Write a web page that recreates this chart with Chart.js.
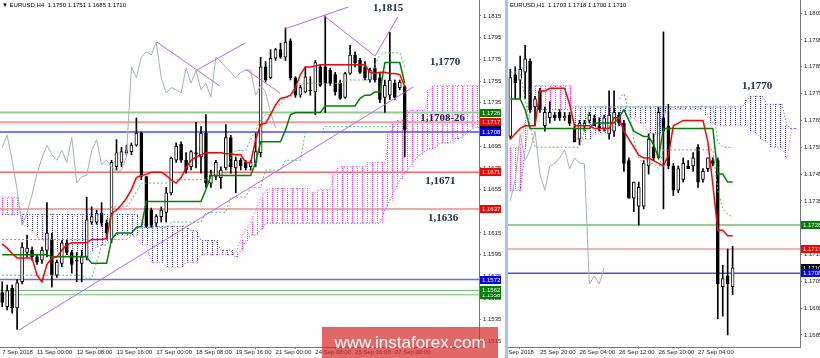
<!DOCTYPE html>
<html>
<head>
<meta charset="utf-8">
<title>EURUSD H4 / H1</title>
<script src="https://cdn.jsdelivr.net/npm/chart.js@4.4.1/dist/chart.umd.min.js"></script>
<style>
  html, body { margin: 0; padding: 0; background: #fff; }
  #wrap { position: relative; width: 820px; height: 358px; overflow: hidden; background: #fff; }
  #h4 { position: absolute; left: 0; top: 0; }
  #h1 { position: absolute; left: 508px; top: 0; }
  #frame { position: absolute; left: 505px; top: 0; width: 3px; height: 358px; background: #a6c4e6; }
  #mark { position: absolute; left: 322px; top: 327px; width: 176px; height: 31px;
          background: rgba(214, 40, 40, 0.7); color: #fff; text-align: center;
          font: 17px "Liberation Sans", Arial, sans-serif; line-height: 31px; }
</style>
</head>
<body>
<div id="wrap">
  <canvas id="h4" width="505" height="358"></canvas>
  <div id="frame"></div>
  <canvas id="h1" width="312" height="358"></canvas>
  <div id="mark">www.instaforex.com</div>
</div>
<script>
// ---------- H4 (left) ----------
const h4Open = [1.1560,1.1547,1.1564,1.1546,1.1570,1.1597,1.1599,1.1593,1.1590,1.1599,
  1.1609,1.1576,1.1587,1.1606,1.1597,1.1590,1.1587,1.1593,1.1625,1.1625,
  1.1633,1.1624,1.1609,1.1676,1.1680,1.1689,1.1690,1.1696,1.1707,1.1667,
  1.1636,1.1624,1.1630,1.1634,1.1652,1.1682,1.1697,1.1682,1.1676,1.1689,
  1.1685,1.1707,1.1661,1.1667,1.1666,1.1675,1.1703,1.1675,1.1682,1.1680,
  1.1676,1.1680,1.1689,1.1768,1.1758,1.1776,1.1784,1.1777,1.1792,1.1758,
  1.1742,1.1745,1.1747,1.1745,1.1768,1.1768,1.1765,1.1761,1.1753,1.1740,
  1.1762,1.1779,1.1774,1.1768,1.1756,1.1767,1.1758,1.1740,1.1742,1.1753,
  1.1749,1.1750];
const h4High = [1.1570,1.1567,1.1567,1.1572,1.1606,1.1613,1.1602,1.1595,1.1602,1.1643,
  1.1615,1.1590,1.1608,1.1609,1.1599,1.1597,1.1599,1.1648,1.1639,1.1636,
  1.1643,1.1627,1.1682,1.1701,1.1694,1.1696,1.1698,1.1721,1.1708,1.1667,
  1.1638,1.1632,1.1639,1.1657,1.1685,1.1698,1.1699,1.1689,1.1691,1.1717,
  1.1713,1.1724,1.1673,1.1682,1.1676,1.1715,1.1705,1.1685,1.1684,1.1682,
  1.1682,1.1707,1.1777,1.1773,1.1784,1.1785,1.1790,1.1804,1.1794,1.1759,
  1.1751,1.1768,1.1759,1.1774,1.1770,1.1815,1.1767,1.1763,1.1756,1.1763,
  1.1788,1.1782,1.1776,1.1773,1.1767,1.1776,1.1763,1.1756,1.1800,1.1756,
  1.1756,1.1751];
const h4Low = [1.1547,1.1544,1.1541,1.1526,1.1568,1.1593,1.1590,1.1586,1.1587,1.1593,
  1.1565,1.1574,1.1584,1.1595,1.1578,1.1570,1.1570,1.1590,1.1623,1.1623,
  1.1621,1.1609,1.1606,1.1673,1.1676,1.1687,1.1687,1.1695,1.1664,1.1620,
  1.1620,1.1621,1.1625,1.1625,1.1650,1.1680,1.1680,1.1670,1.1673,1.1675,
  1.1670,1.1657,1.1657,1.1664,1.1656,1.1673,1.1670,1.1652,1.1673,1.1673,
  1.1673,1.1676,1.1685,1.1754,1.1757,1.1774,1.1776,1.1774,1.1756,1.1740,
  1.1740,1.1744,1.1742,1.1724,1.1750,1.1726,1.1751,1.1742,1.1738,1.1739,
  1.1761,1.1768,1.1762,1.1756,1.1754,1.1754,1.1735,1.1726,1.1738,1.1738,
  1.1747,1.1685];
const h4Close = [1.1551,1.1562,1.1546,1.1569,1.1602,1.1601,1.1593,1.1588,1.1599,1.1615,
  1.1576,1.1588,1.1606,1.1597,1.1586,1.1589,1.1593,1.1627,1.1630,1.1633,
  1.1624,1.1615,1.1680,1.1689,1.1690,1.1691,1.1696,1.1707,1.1667,1.1621,
  1.1622,1.1630,1.1636,1.1652,1.1684,1.1695,1.1682,1.1673,1.1690,1.1688,
  1.1707,1.1661,1.1668,1.1680,1.1673,1.1703,1.1676,1.1682,1.1677,1.1675,
  1.1680,1.1690,1.1768,1.1756,1.1776,1.1784,1.1777,1.1791,1.1758,1.1742,
  1.1749,1.1759,1.1746,1.1772,1.1751,1.1753,1.1753,1.1745,1.1739,1.1762,
  1.1779,1.1772,1.1763,1.1758,1.1765,1.1756,1.1738,1.1751,1.1756,1.1740,
  1.1754,1.1710];

const h4Tenkan = [1.1605,1.1601,1.1596,1.1592,1.1592,1.1592,1.1592,1.1576,1.1570,1.1586,
  1.1592,1.1593,1.1599,1.1604,1.1606,1.1606,1.1606,1.1606,1.1609,1.1609,
  1.1609,1.1610,1.1633,1.1636,1.1641,1.1647,1.1655,1.1666,1.1668,1.1669,
  1.1671,1.1671,1.1671,1.1668,1.1664,1.1661,1.1666,1.1675,1.1682,1.1685,
  1.1687,1.1689,1.1689,1.1689,1.1689,1.1688,1.1688,1.1687,1.1687,1.1680,
  1.1680,1.1701,1.1715,1.1716,1.1724,1.1733,1.1739,1.1740,1.1742,1.1749,
  1.1761,1.1768,1.1768,1.1769,1.1770,1.1770,1.1770,1.1770,1.1770,1.1770,
  1.1770,1.1770,1.1770,1.1770,1.1763,1.1762,1.1763,1.1763,1.1762,1.1762,
  1.1761,1.1750];
const h4Kijun = [1.1595,1.1595,1.1595,1.1595,1.1595,1.1595,1.1595,1.1595,1.1595,1.1595,
  1.1593,1.1593,1.1593,1.1593,1.1593,1.1593,1.1593,1.1593,1.1587,1.1587,
  1.1587,1.1587,1.1609,1.1615,1.1615,1.1615,1.1615,1.1620,1.1621,1.1644,
  1.1644,1.1644,1.1644,1.1644,1.1644,1.1644,1.1644,1.1644,1.1644,1.1644,
  1.1644,1.1655,1.1668,1.1668,1.1668,1.1668,1.1668,1.1668,1.1668,1.1668,
  1.1668,1.1680,1.1699,1.1699,1.1699,1.1699,1.1699,1.1710,1.1724,1.1726,
  1.1726,1.1726,1.1726,1.1726,1.1726,1.1732,1.1732,1.1732,1.1732,1.1732,
  1.1732,1.1732,1.1739,1.1742,1.1742,1.1745,1.1745,1.1772,1.1772,1.1772,
  1.1772,1.1753];
const h4Chikou = [1.1694,1.1705,1.1682,1.1655,1.1622,1.1634,1.1650,1.1670,1.1684,1.1696,
  1.1687,1.1682,1.1691,1.1680,1.1703,1.1661,1.1667,1.1668,1.1691,1.1701,
  1.1678,1.1682,1.1676,1.1671,1.1673,1.1685,1.1768,1.1758,1.1777,1.1782,
  1.1779,1.1791,1.1758,1.1744,1.1749,1.1747,1.1744,1.1767,1.1753,1.1765,
  1.1747,1.1753,1.1740,1.1777,1.1773,1.1768,1.1763,1.1758,1.1763,1.1765,
  1.1765,1.1742,1.1751,1.1745,1.1726,1.1712];
const h4SpanA = [1.1632,1.1632,1.1632,1.1632,1.1632,1.1632,1.1632,1.1632,1.1632,1.1632,
  1.1632,1.1632,1.1632,1.1632,1.1632,1.1632,1.1632,1.1632,1.1632,1.1632,
  1.1632,1.1632,1.1632,1.1632,1.1632,1.1632,1.1632,1.1632,1.1627,1.1621,
  1.1621,1.1621,1.1621,1.1621,1.1621,1.1621,1.1621,1.1621,1.1617,1.1617,
  1.1608,1.1608,1.1608,1.1608,1.1599,1.1599,1.1599,1.1592,1.1599,1.1608,
  1.1613,1.1613,1.1618,1.1624,1.1624,1.1624,1.1624,1.1624,1.1624,1.1624,
  1.1624,1.1624,1.1624,1.1624,1.1624,1.1624,1.1624,1.1624,1.1624,1.1624,
  1.1624,1.1624,1.1624,1.1624,1.1624,1.1624,1.1624,1.1636,1.1645,1.1655,
  1.1664,1.1670,1.1676,1.1682,1.1687,1.1690,1.1693,1.1693,1.1698,1.1698,
  1.1698,1.1702,1.1702,1.1705,1.1709,1.1712,1.1712];
const h4SpanB = [1.1648,1.1648,1.1648,1.1648,1.1624,1.1620,1.1616,1.1612,1.1609,1.1605,
  1.1602,1.1599,1.1594,1.1594,1.1594,1.1594,1.1594,1.1594,1.1599,1.1602,
  1.1604,1.1608,1.1611,1.1613,1.1613,1.1613,1.1613,1.1613,1.1604,1.1604,
  1.1588,1.1588,1.1588,1.1583,1.1583,1.1583,1.1583,1.1588,1.1588,1.1588,
  1.1595,1.1595,1.1595,1.1595,1.1595,1.1595,1.1595,1.1597,1.1609,1.1618,
  1.1625,1.1635,1.1647,1.1654,1.1656,1.1656,1.1656,1.1656,1.1656,1.1656,
  1.1656,1.1656,1.1652,1.1652,1.1655,1.1655,1.1655,1.1671,1.1676,1.1676,
  1.1676,1.1676,1.1676,1.1676,1.1680,1.1680,1.1680,1.1680,1.1707,1.1716,
  1.1719,1.1719,1.1728,1.1728,1.1728,1.1728,1.1747,1.1751,1.1751,1.1751,
  1.1751,1.1751,1.1751,1.1751,1.1751,1.1751,1.1751];
// the two light green dotted guide lines
const h4DotUp = [1.1609,1.1609,1.1609,1.1609,1.1609,1.1609,1.1609,1.1609,1.1609,1.1609,
  1.1609,1.1609,1.1609,1.1609,1.1609,1.1609,1.1609,1.1609,1.1609,1.1609,
  1.1609,1.1609,1.1639,1.1639,1.1639,1.1639,1.1645,1.1653,1.1661,1.1661,
  1.1661,1.1661,1.1661,1.1661,1.1661,1.1664,1.1664,1.1664,1.1664,1.1664,
  1.1664,1.1664,1.1670,1.1670,1.1670,1.1670,1.1685,1.1691,1.1691,1.1691,
  1.1701,1.1710,1.1719,1.1724,1.1724,1.1733,1.1733,1.1740,1.1740,1.1747,
  1.1753,1.1753,1.1753,1.1753,1.1753,1.1753,1.1753,1.1753,1.1753,1.1756,
  1.1756,1.1756,1.1756,1.1756,1.1756,1.1770,1.1779,1.1781,1.1781,1.1781,
  1.1781,1.1768];
const h4DotLow = [1.1576,1.1576,1.1576,1.1576,1.1576,1.1576,1.1576,1.1576,1.1576,1.1576,
  1.1576,1.1576,1.1576,1.1576,1.1576,1.1576,1.1576,1.1573,1.1573,1.1588,
  1.1604,1.1604,1.1609,1.1609,1.1609,1.1609,1.1612,1.1612,1.1620,1.1620,
  1.1620,1.1620,1.1620,1.1620,1.1625,1.1625,1.1625,1.1625,1.1625,1.1625,
  1.1625,1.1634,1.1634,1.1634,1.1634,1.1634,1.1648,1.1648,1.1648,1.1648,
  1.1657,1.1657,1.1657,1.1673,1.1673,1.1673,1.1673,1.1682,1.1682,1.1682,
  1.1682,1.1708,1.1708,1.1708,1.1708,1.1713,1.1713,1.1713,1.1713,1.1713,
  1.1713,1.1713,1.1713,1.1713,1.1713,1.1713,1.1713,1.1713,1.1713,1.1713,
  1.1713,1.1713];

const h4Levels = [1.1726, 1.1717, 1.1708, 1.1671, 1.1637, 1.1572, 1.1562, 1.1558];
const h4Tags = [1.1726, 1.1717, 1.1710, 1.1708, 1.1671, 1.1637, 1.1572, 1.1558, 1.1562];
const h4Trends = [[3.38, 1.15255, 82.7, 1.17495], [31.1, 1.17910, 43.8, 1.17504],
  [39.2, 1.17652, 48.9, 1.17901], [48.9, 1.17661, 55.9, 1.17440],
  [56.9, 1.18030, 69.6, 1.18232], [64.8, 1.18150, 75.0, 1.17781],
  [75.0, 1.17781, 79.6, 1.18140]];
const h4Notes = [['1,1815', 74.6, 1.18223], ['1,1770', 86.1, 1.17726], ['1,1708-26', 84.1, 1.17209],
  ['1,1671', 85.1, 1.16629], ['1,1636', 85.7, 1.16288]];
const h4DateIdx = [0, 7, 15, 23, 31, 39, 47, 55, 63, 71, 79];
const h4Dates = ['7 Sep 2018', '11 Sep 00:00', '12 Sep 08:00', '13 Sep 16:00', '17 Sep 00:00',
  '18 Sep 08:00', '19 Sep 16:00', '21 Sep 00:00', '24 Sep 08:00', '25 Sep 16:00', '27 Sep 00:00'];
const h4PriceTicks = [1.1515, 1.1535, 1.1555, 1.1575, 1.1595, 1.1615, 1.1635, 1.1655,
  1.1675, 1.1695, 1.1715, 1.1735, 1.1755, 1.1775, 1.1795, 1.1815];

// ---------- H1 (right) ----------
const h1Open = [1.1759,1.1782,1.1780,1.1783,1.1787,1.1770,1.1776,1.1763,1.1766,1.1767,
  1.1768,1.1766,1.1767,1.1762,1.1758,1.1763,1.1765,1.1766,1.1763,1.1762,
  1.1760,1.1761,1.1767,1.1764,1.1750,1.1736,1.1733,1.1733,1.1748,1.1755,
  1.1751,1.1766,1.1763,1.1748,1.1739,1.1743,1.1748,1.1748,1.1755,1.1743,
  1.1747,1.1750,1.1750,1.1703,1.1707,1.1703];
const h1High = [1.1784,1.1785,1.1789,1.1793,1.1788,1.1774,1.1777,1.1770,1.1772,1.1768,
  1.1769,1.1768,1.1768,1.1763,1.1765,1.1765,1.1768,1.1767,1.1766,1.1767,
  1.1776,1.1776,1.1768,1.1765,1.1751,1.1742,1.1742,1.1750,1.1760,1.1760,
  1.1770,1.1798,1.1771,1.1749,1.1748,1.1751,1.1750,1.1753,1.1756,1.1747,
  1.1751,1.1751,1.1751,1.1711,1.1717,1.1718];
const h1Low = [1.1758,1.1773,1.1773,1.1773,1.1768,1.1763,1.1768,1.1761,1.1764,1.1765,
  1.1765,1.1765,1.1763,1.1757,1.1756,1.1761,1.1764,1.1763,1.1761,1.1761,
  1.1758,1.1759,1.1763,1.1746,1.1736,1.1731,1.1726,1.1732,1.1745,1.1750,
  1.1751,1.1732,1.1747,1.1737,1.1738,1.1742,1.1747,1.1746,1.1740,1.1742,
  1.1746,1.1748,1.1691,1.1692,1.1685,1.1700];
const h1Close = [1.1781,1.1779,1.1784,1.1788,1.1769,1.1773,1.1769,1.1768,1.1768,1.1766,
  1.1766,1.17665,1.1764,1.1757,1.1764,1.1764,1.1767,1.1763,1.1762,1.1766,
  1.1767,1.1768,1.1764,1.1749,1.1736,1.1742,1.1740,1.1749,1.1758,1.1751,
  1.1768,1.1761,1.1748,1.1739,1.1747,1.1749,1.1747,1.1751,1.1742,1.1746,
  1.1751,1.1749,1.1704,1.1706,1.1704,1.1710];

const h1Tenkan = [1.1758,1.1760,1.1762,1.1763,1.1763,1.1763,1.1776,1.1776,1.1777,1.1777,
  1.1777,1.1777,1.1771,1.1763,1.1763,1.1763,1.1763,1.1762,1.1762,1.1762,
  1.1762,1.1766,1.1766,1.1761,1.1758,1.1755,1.1752,1.1751,1.1751,1.1750,
  1.1749,1.1748,1.1752,1.1763,1.1764,1.1765,1.1765,1.1765,1.1765,1.1765,
  1.1757,1.1741,1.1724,1.1724,1.1722,1.1722];
const h1Kijun = [1.1773,1.1773,1.1773,1.1769,1.1762,1.1762,1.1762,1.1762,1.1762,1.1762,
  1.1762,1.1762,1.1762,1.1762,1.1762,1.1762,1.1762,1.1764,1.1764,1.1764,
  1.1764,1.1764,1.1766,1.1769,1.1765,1.1761,1.1760,1.1759,1.1759,1.1756,
  1.1751,1.1762,1.1762,1.1762,1.1762,1.1762,1.1762,1.1762,1.1762,1.1762,
  1.1762,1.1762,1.1745,1.1745,1.1742,1.1742];
const h1Chikou = [1.1735,1.1743,1.1760,1.1750,1.1754,1.1761,1.1745,1.1739,1.1748,1.1749,
  1.1751,1.1754,1.1747,1.1751,1.1749,1.1749,1.1704,1.1707,1.1704,1.1710];
const h1SpanA = [1.1739,1.1739,1.1739,1.1754,1.1768,1.1769,1.1769,1.1769,1.1769,1.1769,
  1.1769,1.1769,1.1769,1.1770,1.1770,1.1770,1.1770,1.1770,1.1770,1.1770,
  1.1770,1.1770,1.1770,1.1770,1.1770,1.1770,1.1770,1.1770,1.1770,1.1770,
  1.1770,1.1770,1.1770,1.1770,1.1770,1.1770,1.1770,1.1770,1.1770,1.1770,
  1.1770,1.1770,1.1770,1.1770,1.1770,1.1770,1.1770,1.1770,1.1773,1.1774,
  1.1774,1.1774,1.1771,1.1771,1.1771,1.1771,1.1763,1.1762,1.1762];
const h1SpanB = [1.1755,1.1755,1.1755,1.1765,1.1776,1.1778,1.1778,1.1778,1.1778,1.1778,
  1.1778,1.1778,1.1778,1.1758,1.1758,1.1758,1.1758,1.1760,1.1760,1.1760,
  1.1760,1.1763,1.1763,1.1767,1.1766,1.1766,1.1764,1.1764,1.1760,1.1760,
  1.1760,1.1768,1.1769,1.1769,1.1769,1.1769,1.1769,1.1769,1.1769,1.1769,
  1.1767,1.1764,1.1763,1.1763,1.1763,1.1763,1.1763,1.1763,1.1763,1.1761,
  1.1760,1.1758,1.1757,1.1755,1.1755,1.1755,1.1751,1.1762,1.1762];
const h1DotUp = [1.1783,1.1783,1.1783,1.1773,1.1763,1.1755,1.1755,1.1755,1.1755,1.1755,
  1.1755,1.1755,1.1755,1.1755,1.1755,1.1761,1.1770,1.1770,1.1770,1.1770,
  1.1770,1.1770,1.1770,1.1770,1.1770,1.1770,1.1770,1.1770,1.1770,1.1770,
  1.1770,1.1770,1.1770,1.1770,1.1770,1.1770,1.1770,1.1770,1.1770,1.1770,
  1.1770,1.1770,1.1757,1.1755,1.1755,1.1755];
const h1DotLow = [null,null,null,null,null,null,null,null,null,null,
  null,null,null,null,null,null,null,null,null,null,
  null,null,1.1773,1.1775,1.1769,1.1758,1.1751,1.1749,1.1749,1.1749,
  1.1747,1.1754,1.1754,1.1754,1.1754,1.1754,1.1754,1.1754,1.1754,1.1754,
  1.1754,1.1754,1.1739,1.1732,1.1730,1.1729];

const h1Levels = [1.1726, 1.1717, 1.1708];
const h1Tags = [1.1726, 1.1717, 1.1710, 1.1708];
const h1Notes = [['1,1770', 46.9, 1.17778]];
const h1DateIdx = [-2.1, 6, 14, 22, 30, 38];
const h1Dates = ['25 Sep 2018', '25 Sep 20:00', '26 Sep 04:00', '26 Sep 12:00', '26 Sep 20:00', '27 Sep 04:00'];
const h1PriceTicks = [1.1685, 1.1695, 1.1705, 1.1715, 1.1725, 1.1735, 1.1745,
  1.1755, 1.1765, 1.1775, 1.1785, 1.1795, 1.1805];

// ---------- helpers ----------
const axisFont = { family: '"Liberation Sans", Arial, sans-serif', size: 6 };
const pts = arr => arr.map((v, i) => ({ x: i, y: v }));

function line(arr, color, width, dash, order) {
  return { type: 'line', order: order, data: pts(arr), borderColor: color, borderWidth: width,
    borderDash: dash || [], pointRadius: 0, tension: 0, fill: false };
}

function hline(v, color, width) {
  return { type: 'line', order: 90, data: [{ x: -10, y: v }, { x: 200, y: v }],
    borderColor: color, borderWidth: width, pointRadius: 0 };
}

function segment(t) {
  return { type: 'line', order: 20, data: [{ x: t[0], y: t[1] }, { x: t[2], y: t[3] }],
    borderColor: '#b36ae2', borderWidth: 1, pointRadius: 0 };
}

function candles(o, h, l, c) {
  return [
    { type: 'bar', order: 80, grouped: false, barThickness: 1, backgroundColor: '#000',
      data: o.map((v, i) => ({ x: i, y: [l[i], h[i]] })) },
    { type: 'bar', order: 79, grouped: false, barThickness: 3, minBarLength: 1,
      data: o.map((v, i) => ({ x: i, y: [v, c[i]] })),
      backgroundColor: o.map((v, i) => c[i] >= v ? '#fff' : '#000'),
      borderColor: '#000', borderWidth: 1, borderSkipped: false }
  ];
}

// MT4 style dotted hatching for the cloud
function dots(color) {
  const c = document.createElement('canvas');
  c.width = 5; c.height = 2;
  const g = c.getContext('2d');
  g.fillStyle = color;
  g.fillRect(2, 0, 1, 1);
  return g.createPattern(c, 'repeat');
}
const bluePat = dots('#2828ff');
const pinkPat = dots('#ff28ff');

function cloud(a, b) {
  return [
    { type: 'bar', order: 100, grouped: false, barPercentage: 1, categoryPercentage: 1,
      data: a.map((v, i) => ({ x: i, y: [v, b[i]] })),
      backgroundColor: a.map((v, i) => v >= b[i] ? bluePat : pinkPat) },
    line(a, '#3a3aff', 1, [1, 2], 70),
    line(b, '#ff3aff', 1, [1, 2], 69)
  ];
}

function scales(o) {
  return {
    x: {
      type: 'linear', min: o.xMin, max: o.xMax, offset: false, bounds: 'data',
      afterBuildTicks: s => { s.ticks = o.dateIdx.map(v => ({ value: v })); },
      afterFit: s => { s.height = 11; s.paddingLeft = 0; s.paddingRight = 0; },
      ticks: { autoSkip: false, maxRotation: 0, align: 'start', padding: 0, color: '#222',
        font: axisFont, callback: (v, i) => o.dates[i] },
      grid: { drawOnChartArea: false, tickLength: 2, color: '#777' },
      border: { color: '#777' }
    },
    y: {
      type: 'linear', position: 'right', min: o.yMin, max: o.yMax, beginAtZero: false, bounds: 'data',
      afterBuildTicks: s => { s.ticks = o.priceTicks.map(v => ({ value: v })); },
      afterFit: s => { s.width = o.axisW; s.paddingTop = 0; s.paddingBottom = 0; },
      ticks: { padding: 2, color: '#222', font: axisFont, callback: v => v.toFixed(4) },
      grid: { drawOnChartArea: false, tickLength: 2, color: '#777' },
      border: { color: '#777' }
    }
  };
}

// title, price tags on the axis and the hand written levels
function overlay(o) {
  return {
    id: 'overlay',
    afterDraw(chart) {
      const { ctx, chartArea: a, scales: { x, y } } = chart;
      ctx.save();
      ctx.textBaseline = 'middle';
      ctx.textAlign = 'left';
      ctx.font = '6px "Liberation Sans", Arial, sans-serif';
      ctx.fillStyle = '#000';
      ctx.fillText(o.title, 2, 5);
      o.tags.forEach((v, i) => {
        const py = Math.round(y.getPixelForValue(v));
        ctx.fillStyle = o.tagColors[i];
        ctx.fillRect(a.right + 1, py - 4, o.tagW, 8);
        ctx.fillStyle = '#fff';
        ctx.fillText(v.toFixed(4), a.right + 3, py);
      });
      ctx.font = 'bold 11px "Liberation Serif", "Times New Roman", serif';
      ctx.fillStyle = '#14284a';
      o.notes.forEach(n => ctx.fillText(n[0], x.getPixelForValue(n[1]), y.getPixelForValue(n[2])));
      ctx.restore();
    }
  };
}

function options(sc) {
  return {
    responsive: false, animation: false, events: [],
    layout: { padding: 0, autoPadding: false },
    plugins: { legend: { display: false }, tooltip: { enabled: false } },
    scales: sc
  };
}

// ---------- H4 chart ----------
const h4LevelColors = ['#8fcf8f', '#f59a9a', '#4d4dff', '#f06a6a', '#f08a8a', '#6a6aff', '#6fbf6f', '#6fbf6f'];
const h4LevelWidths = [2, 2, 1.5, 1.5, 1.5, 1.5, 1, 1];

new Chart(document.getElementById('h4'), {
  type: 'bar',
  data: {
    datasets: [
      ...cloud(h4SpanA, h4SpanB),
      ...h4Levels.map((v, i) => hline(v, h4LevelColors[i], h4LevelWidths[i])),
      ...candles(h4Open, h4High, h4Low, h4Close),
      line(h4DotUp, '#5fb85f', 1, [2, 2], 60),
      line(h4DotLow, '#5fb85f', 1, [2, 2], 59),
      line(h4Chikou, '#a7afb8', 1, null, 50),
      line(h4Kijun, '#008000', 1.5, null, 40),
      line(h4Tenkan, '#ff0000', 1.5, null, 30),
      ...h4Trends.map(segment)
    ]
  },
  options: options(scales({
    xMin: -0.443, xMax: 95.94, yMin: 1.15099, yMax: 1.18297, axisW: 26,
    dateIdx: h4DateIdx, dates: h4Dates, priceTicks: h4PriceTicks
  })),
  plugins: [overlay({
    title: '\u25BC EURUSD,H4  1.1750 1.1751 1.1685 1.1710',
    tags: h4Tags, tagW: 21, notes: h4Notes,
    tagColors: ['#008000', '#ff0000', '#000000', '#0000ff', '#ff0000', '#ff0000', '#0000ff', '#008000', '#008000']
  })]
});

// ---------- H1 chart ----------
const h1LevelColors = ['#6fbf6f', '#f59a9a', '#4d4dff'];

new Chart(document.getElementById('h1'), {
  type: 'bar',
  data: {
    datasets: [
      ...cloud(h1SpanA, h1SpanB),
      ...h1Levels.map((v, i) => hline(v, h1LevelColors[i], 1.5)),
      ...candles(h1Open, h1High, h1Low, h1Close),
      line(h1DotUp, '#5fb85f', 1, [2, 2], 60),
      line(h1DotLow, '#5fb85f', 1, [2, 2], 59),
      line(h1Chikou, '#a7afb8', 1, null, 50),
      line(h1Kijun, '#008000', 1.5, null, 40),
      line(h1Tenkan, '#ff0000', 1.5, null, 30)
    ]
  },
  options: options(scales({
    xMin: -0.466, xMax: 58.64, yMin: 1.16805, yMax: 1.18099, axisW: 20,
    dateIdx: h1DateIdx, dates: h1Dates, priceTicks: h1PriceTicks
  })),
  plugins: [overlay({
    title: 'EURUSD,H1  1.1703 1.1718 1.1700 1.1710',
    tags: h1Tags, tagW: 19, notes: h1Notes,
    tagColors: ['#008000', '#ff0000', '#000000', '#0000ff']
  })]
});
</script>
</body>
</html>
